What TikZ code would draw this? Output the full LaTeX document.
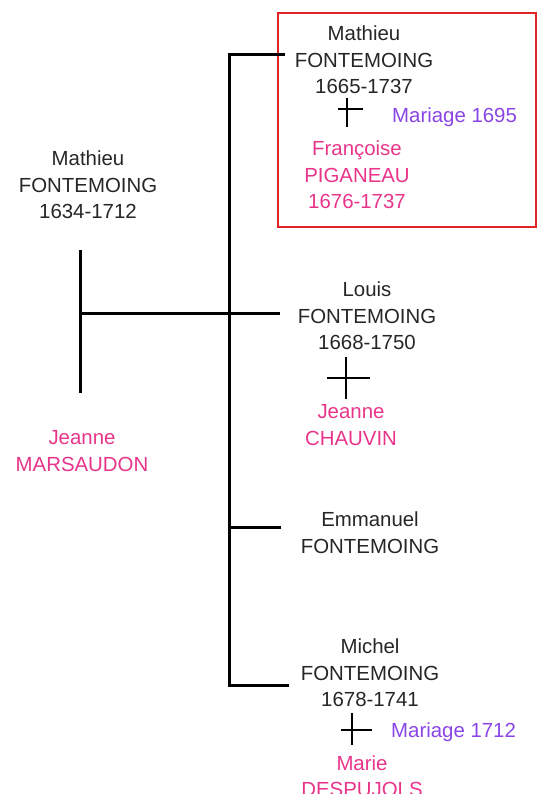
\documentclass[tikz,border=0pt]{standalone}
\usepackage{fontspec}
\setmainfont{Liberation Sans}
\definecolor{pinkc}{HTML}{E8358A}
\definecolor{purplec}{HTML}{8A45E6}
\definecolor{boxred}{HTML}{E02424}
\begin{document}
\begin{tikzpicture}[x=1pt,y=-1pt,
  txt/.style={align=center,inner sep=0pt,font=\fontsize{20.4}{26.6}\selectfont},
  male/.style={txt,text=black!85},
  female/.style={txt,text=pinkc},
  wed/.style={txt,text=purplec,anchor=west},
  tree/.style={line width=3pt},
  plus/.style={line width=2pt}]
\useasboundingbox (0,0) rectangle (539,794);
% red box
\draw[boxred,line width=2pt] (278,13) rectangle (536,227);
% parent
\node[male] (p) at (88,185) {Mathieu\\FONTEMOING\\1634-1712};
\node[female] (pw) at (82,451) {Jeanne\\MARSAUDON};
\coordinate (pt) at (80,250);
\coordinate (pb) at (80,393);
\coordinate (pm) at (80,313);
\draw[tree] (pt) -- (pb);
% main vertical
\coordinate (vt) at (229,55);
\coordinate (vb) at (229,685);
\coordinate (vm) at (229,313);
\coordinate (v3) at (229,527);
\draw[tree] (pm) -- (vm);
\draw[tree] (285,55) -- (vt) -- (vb) -- (289,685);
\coordinate (c1) at (285,55);
\coordinate (c2) at (280,313);
\coordinate (c3) at (281,527);
\draw[tree] (vm) -- (c2);
\draw[tree] (v3) -- (c3);
% child 1
\node[male] (m1) at (364,60) {Mathieu\\FONTEMOING\\1665-1737};
\coordinate (x1t) at (347,98); \coordinate (x1b) at (347,127);
\coordinate (x1l) at (338,109); \coordinate (x1r) at (363,109);
\draw[plus] (x1t) -- (x1b) (x1l) -- (x1r);
\node[wed] (w1) at (392,117) {Mariage 1695};
\node[female] (f1) at (357,175) {Françoise\\PIGANEAU\\1676-1737};
% child 2
\node[male] (m2) at (367,316) {Louis\\FONTEMOING\\1668-1750};
\coordinate (x2t) at (346,357); \coordinate (x2b) at (346,399);
\coordinate (x2l) at (327,378); \coordinate (x2r) at (370,378);
\draw[plus] (x2t) -- (x2b) (x2l) -- (x2r);
\node[female] (f2) at (351,425) {Jeanne\\CHAUVIN};
% child 3
\node[male] (m3) at (370,533) {Emmanuel\\FONTEMOING};
% child 4
\node[male] (m4) at (370,673) {Michel\\FONTEMOING\\1678-1741};
\coordinate (x4t) at (352,713); \coordinate (x4b) at (352,745);
\coordinate (x4l) at (341,730); \coordinate (x4r) at (372,730);
\draw[plus] (x4t) -- (x4b) (x4l) -- (x4r);
\node[wed] (w4) at (391,732) {Mariage 1712};
\node[female] (f4) at (362,776) {Marie\\DESPUJOLS};
\end{tikzpicture}
\end{document}
